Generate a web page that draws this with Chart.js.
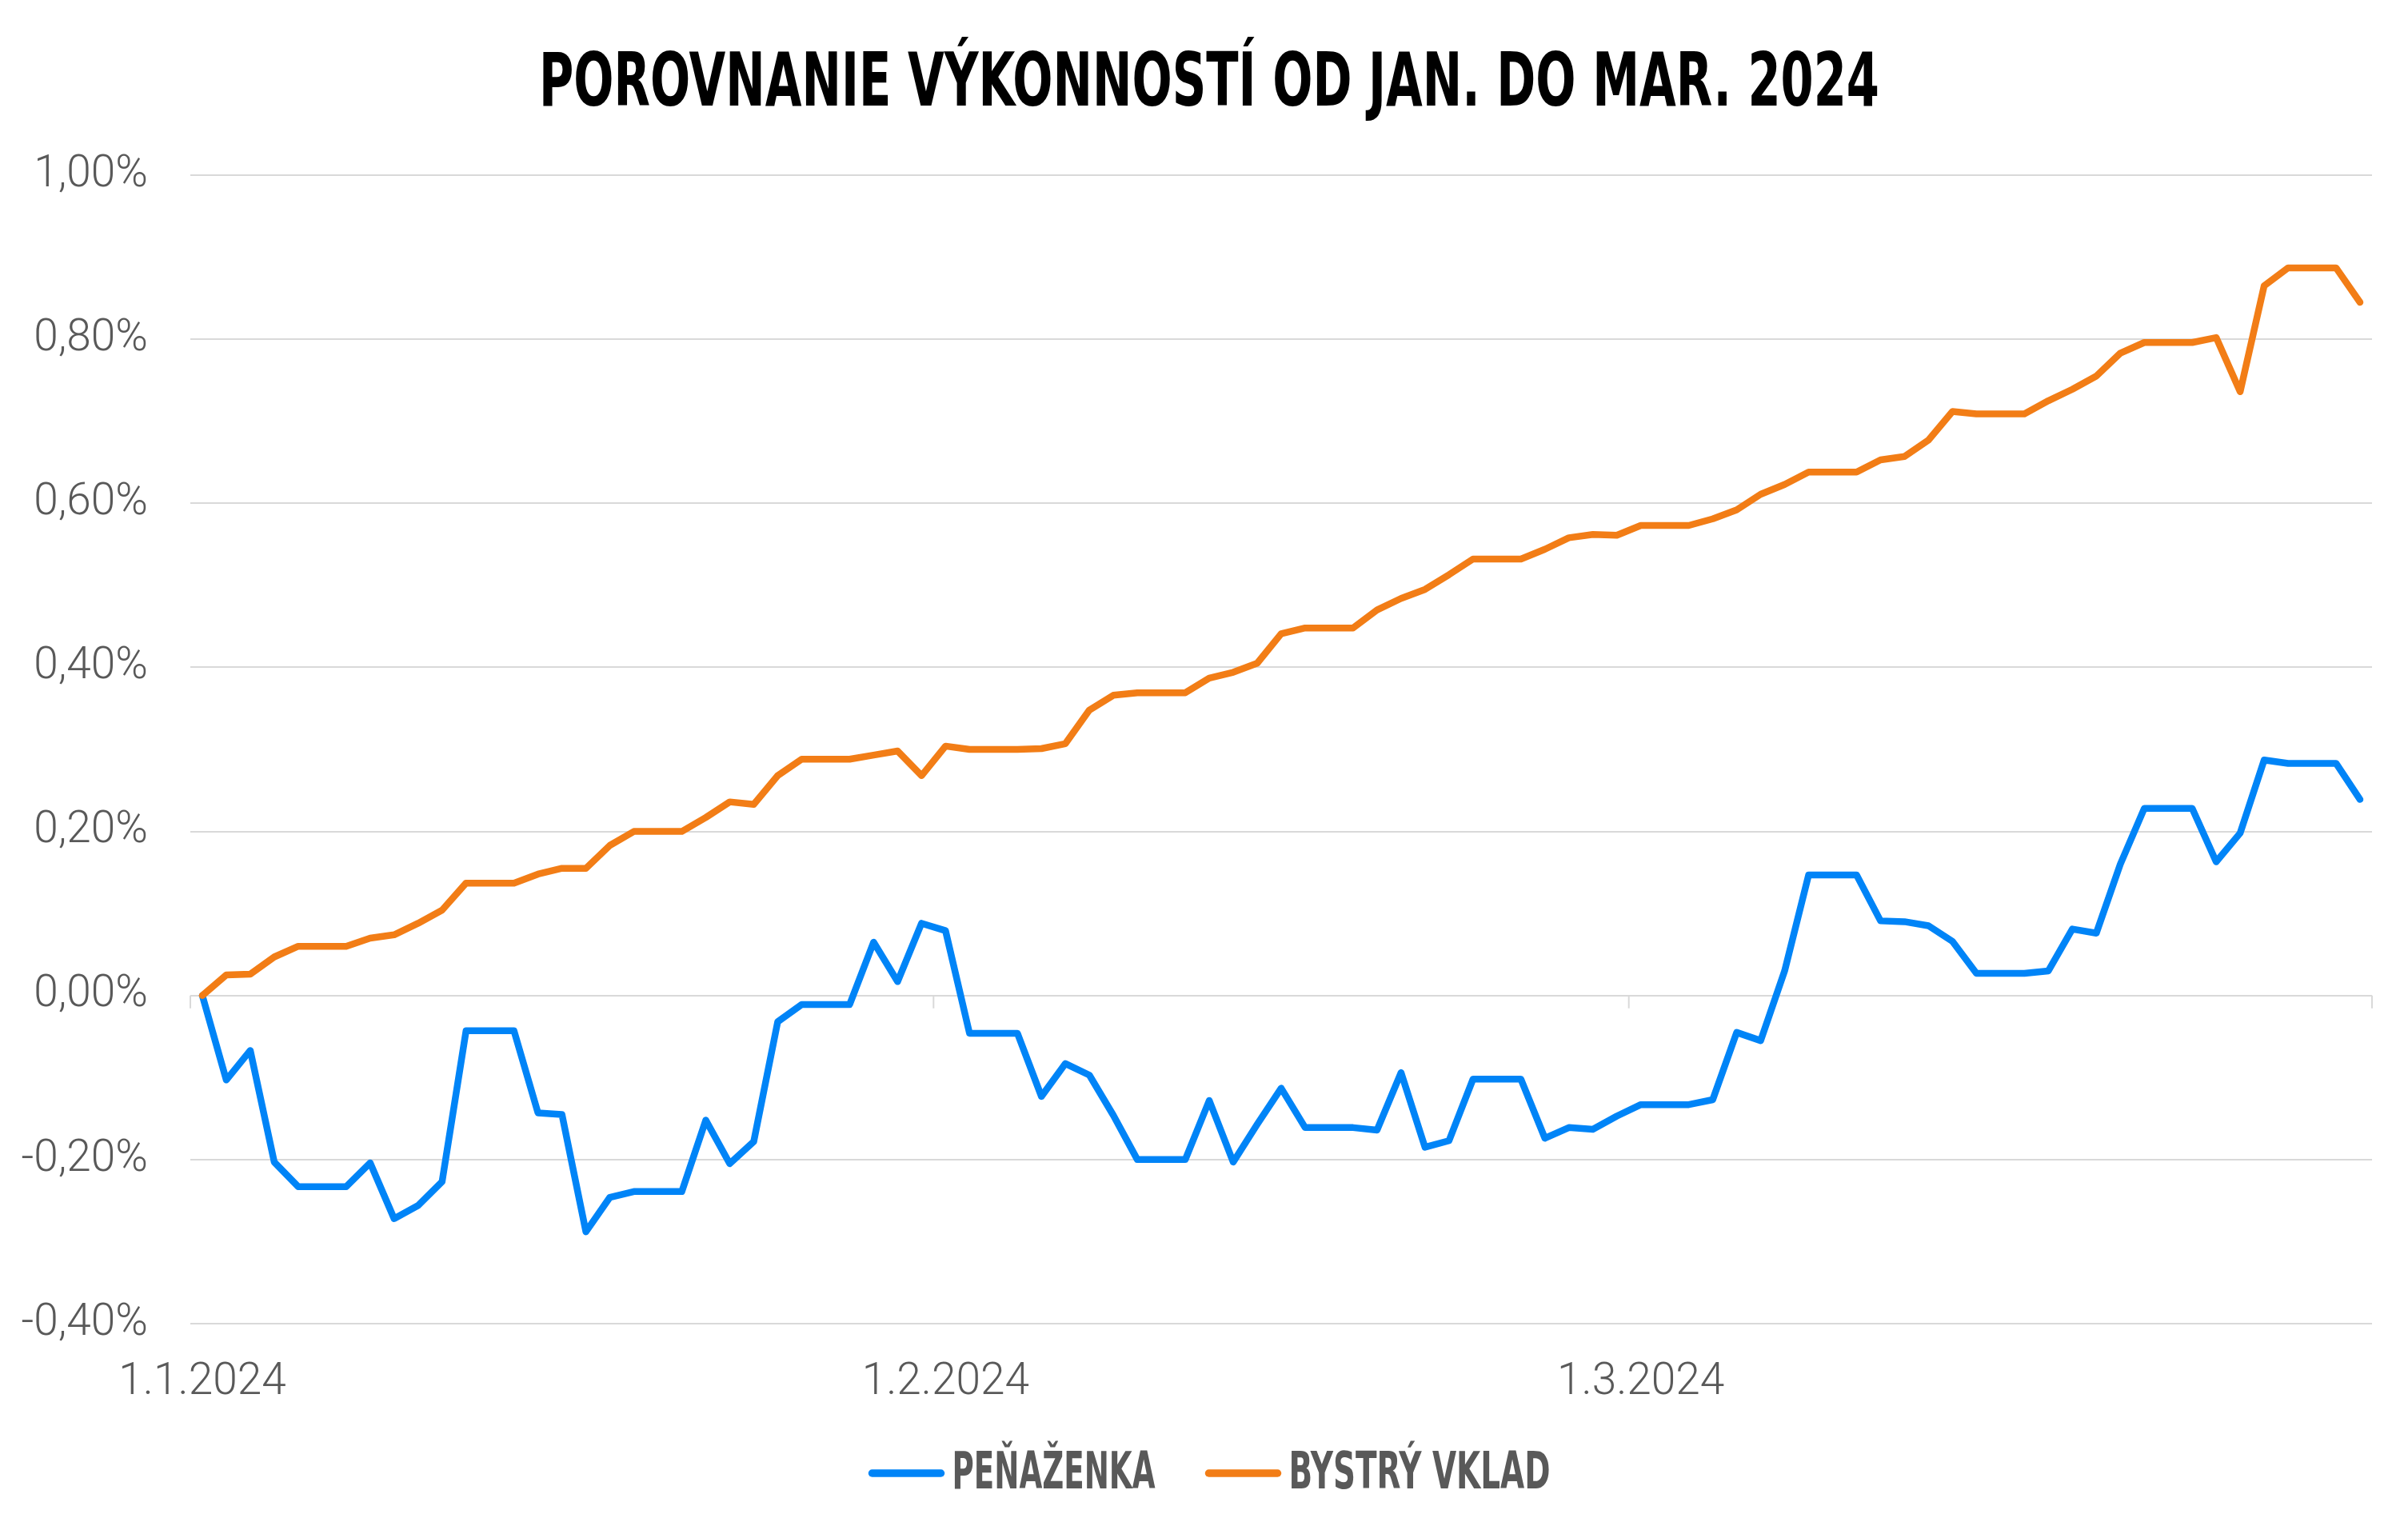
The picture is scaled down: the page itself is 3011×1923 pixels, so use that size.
<!DOCTYPE html>
<html lang="sk">
<head>
<meta charset="utf-8">
<title>Porovnanie výkonností od jan. do mar. 2024</title>
<script src="https://cdn.jsdelivr.net/npm/chart.js@4.4.1/dist/chart.umd.min.js"></script>
<style>
  html, body { margin: 0; padding: 0; background: #fff; }
  #wrap { width: 3011px; height: 1923px; position: relative; }
</style>
</head>
<body>
<div id="wrap"><canvas id="chart"></canvas></div>
<script>
// Data (values in %)
const title = 'POROVNANIE VÝKONNOSTÍ OD JAN. DO MAR. 2024';
const seriesNames = ['PEŇAŽENKA', 'BYSTRÝ VKLAD'];
const seriesColors = ['#0084F7', '#F27D16'];

// daily categories 1.1.2024 .. 31.3.2024
const monthDays = [[1, 31], [2, 29], [3, 31]];
const labels = [];
monthDays.forEach(([m, n]) => {
  for (let d = 1; d <= n; d++) labels.push(`${d}.${m}.2024`);
});

const penazenka = [
  0, -0.103, -0.067, -0.203, -0.233, -0.233, -0.233, -0.204, -0.272, -0.256,
  -0.227, -0.043, -0.043, -0.043, -0.143, -0.145, -0.288, -0.246, -0.239, -0.239,
  -0.239, -0.152, -0.205, -0.178, -0.032, -0.011, -0.011, -0.011, 0.065, 0.017,
  0.088, 0.079, -0.046, -0.046, -0.046, -0.123, -0.083, -0.097, -0.146, -0.200,
  -0.200, -0.200, -0.128, -0.203, -0.157, -0.113, -0.161, -0.161, -0.161, -0.164,
  -0.094, -0.185, -0.177, -0.102, -0.102, -0.102, -0.174, -0.161, -0.163, -0.147,
  -0.133, -0.133, -0.133, -0.127, -0.045, -0.055, 0.030, 0.147, 0.147, 0.147,
  0.091, 0.090, 0.085, 0.066, 0.027, 0.027, 0.027, 0.030, 0.081, 0.076,
  0.160, 0.228, 0.228, 0.228, 0.163, 0.198, 0.287, 0.283, 0.283, 0.283,
  0.239
];

const bystryVklad = [
  0, 0.025, 0.026, 0.047, 0.060, 0.060, 0.060, 0.070, 0.074, 0.088,
  0.104, 0.137, 0.137, 0.137, 0.148, 0.155, 0.155, 0.183, 0.200, 0.200,
  0.200, 0.217, 0.236, 0.233, 0.268, 0.288, 0.288, 0.288, 0.293, 0.298,
  0.268, 0.304, 0.300, 0.300, 0.300, 0.301, 0.307, 0.348, 0.366, 0.369,
  0.369, 0.369, 0.387, 0.394, 0.405, 0.441, 0.448, 0.448, 0.448, 0.470,
  0.484, 0.495, 0.513, 0.532, 0.532, 0.532, 0.544, 0.558, 0.562, 0.561,
  0.573, 0.573, 0.573, 0.581, 0.592, 0.611, 0.623, 0.638, 0.638, 0.638,
  0.653, 0.657, 0.677, 0.712, 0.709, 0.709, 0.709, 0.725, 0.739, 0.755,
  0.783, 0.796, 0.796, 0.796, 0.802, 0.736, 0.865, 0.887, 0.887, 0.887,
  0.845
];

const yMin = -0.4, yMax = 1.0, yStep = 0.2;

const GRID = '#d9d9d9';
const TEXT = '#595959';
const CONDENSED = '"Liberation Sans Narrow", "DejaVu Sans Condensed", "Roboto", sans-serif';

// draw text squeezed horizontally to a target width (the original uses a condensed face)
function drawSqueezed(ctx, text, x, y, font, width, align) {
  ctx.save();
  ctx.font = font;
  const scale = width / ctx.measureText(text).width;
  ctx.textBaseline = 'alphabetic';
  ctx.textAlign = align;
  ctx.translate(x, y);
  ctx.scale(scale, 1);
  ctx.fillText(text, 0, 0);
  ctx.restore();
}

const decor = {
  id: 'decor',
  beforeDatasetsDraw(chart) {
    const { ctx, scales: { x, y } } = chart;
    const y0 = y.getPixelForValue(0);
    // small tick marks on the zero line at month boundaries
    const idx = [0];
    labels.forEach((l, i) => { if (i > 0 && l.startsWith('1.')) idx.push(i); });
    idx.push(labels.length);
    ctx.save();
    ctx.strokeStyle = GRID;
    ctx.lineWidth = 2;
    idx.forEach(i => {
      let px;
      if (i === 0) px = x.left;
      else if (i === labels.length) px = x.right;
      else px = (x.getPixelForValue(i - 1) + x.getPixelForValue(i)) / 2;
      ctx.beginPath();
      ctx.moveTo(px, y0);
      ctx.lineTo(px, y0 + 16);
      ctx.stroke();
    });
    ctx.restore();
  },
  afterDraw(chart) {
    const { ctx } = chart;
    const cx = 1512;

    // title
    ctx.fillStyle = '#000';
    drawSqueezed(ctx, title, cx, 132, `bold 93px ${CONDENSED}`, 1676, 'center');

    // legend
    const lFont = `bold 64px ${CONDENSED}`;
    const textW = [254, 327];
    const sample = 96, gap = 9, itemGap = 62;
    const total = textW.reduce((a, w) => a + sample + gap + w, 0) + itemGap * (seriesNames.length - 1);
    let lx = cx - total / 2;
    const ly = 1842;
    seriesNames.forEach((name, i) => {
      ctx.save();
      ctx.strokeStyle = seriesColors[i];
      ctx.lineWidth = 9.5;
      ctx.lineCap = 'round';
      ctx.beginPath();
      ctx.moveTo(lx + 5, ly);
      ctx.lineTo(lx + sample - 5, ly);
      ctx.stroke();
      ctx.restore();
      ctx.fillStyle = TEXT;
      drawSqueezed(ctx, name, lx + sample + gap, 1861, lFont, textW[i], 'left');
      lx += sample + gap + textW[i] + itemGap;
    });
  }
};

const fmtPct = v => {
  const r = Math.round(v * 100) / 100;
  return (Math.abs(r) < 1e-9 ? 0 : r).toFixed(2).replace('.', ',') + '%';
};

new Chart(document.getElementById('chart'), {
  type: 'line',
  data: {
    labels,
    datasets: [
      {
        label: seriesNames[0],
        data: penazenka,
        borderColor: seriesColors[0],
        backgroundColor: seriesColors[0],
        order: 1
      },
      {
        label: seriesNames[1],
        data: bystryVklad,
        borderColor: seriesColors[1],
        backgroundColor: seriesColors[1],
        order: 0
      }
    ]
  },
  options: {
    responsive: true,
    maintainAspectRatio: false,
    devicePixelRatio: 1,
    animation: false,
    events: [],
    layout: { padding: { top: 219, right: 45, left: 0, bottom: 0 } },
    elements: {
      line: { borderWidth: 8.5, tension: 0, borderJoinStyle: 'round', borderCapStyle: 'round' },
      point: { radius: 0 }
    },
    plugins: {
      legend: { display: false },
      title: { display: false },
      tooltip: { enabled: false }
    },
    scales: {
      x: {
        type: 'category',
        offset: true,
        grid: { display: false },
        border: { display: false },
        afterFit: s => { s.height = 268; },
        ticks: {
          autoSkip: false,
          maxRotation: 0,
          minRotation: 0,
          padding: 33,
          color: TEXT,
          font: { family: 'Roboto', weight: '300', size: 55 },
          callback: function (v, i) {
            const l = labels[i];
            return l.startsWith('1.') ? l : '';
          }
        }
      },
      y: {
        min: yMin,
        max: yMax,
        grid: { color: GRID, lineWidth: 2, drawTicks: false },
        border: { display: false },
        afterFit: s => { s.width = 238; },
        ticks: {
          stepSize: yStep,
          padding: 53,
          color: TEXT,
          font: { family: 'Roboto', weight: '300', size: 55 },
          callback: v => fmtPct(v)
        }
      }
    }
  },
  plugins: [decor]
});
</script>
</body>
</html>
